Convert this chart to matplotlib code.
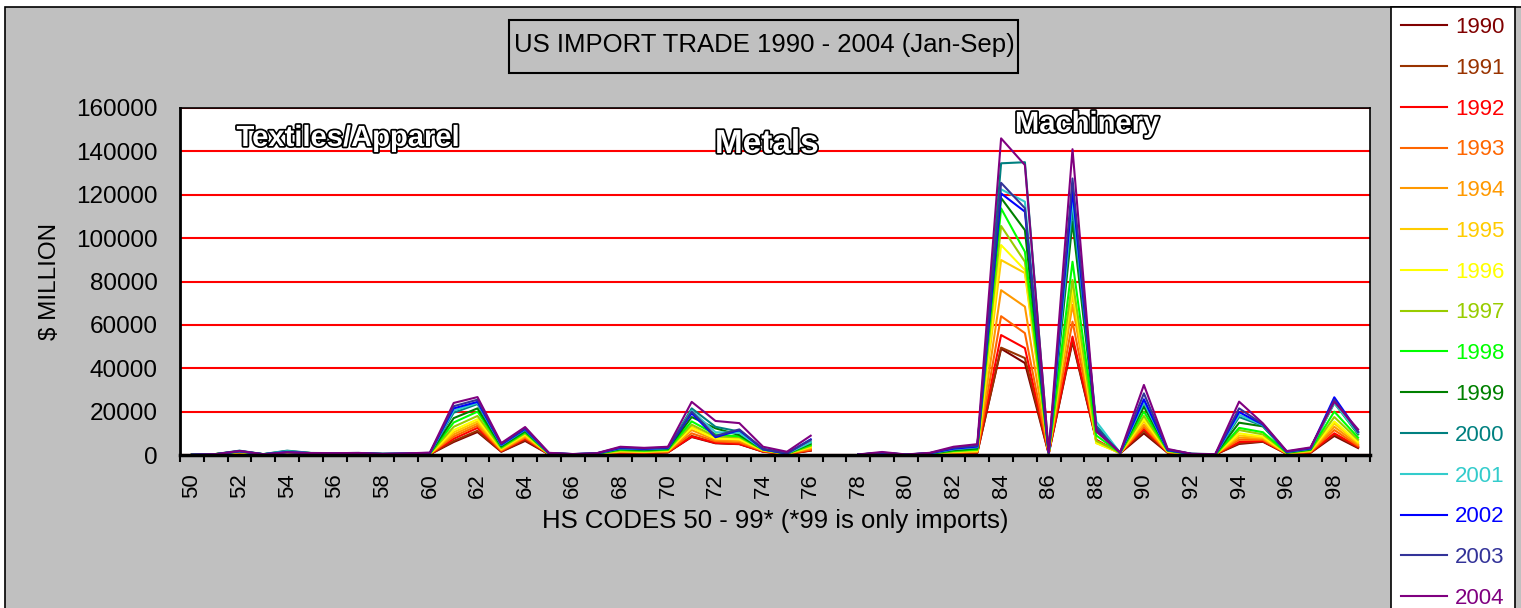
import numpy as np
import matplotlib.pyplot as plt
import matplotlib.patheffects as pe
from matplotlib.patches import Rectangle

# fonts: Arial-like text, narrow bold for the sector labels
plt.rcParams['font.family'] = ['Liberation Sans', 'DejaVu Sans']

nan = np.nan

# HS chapters on the x axis (77 is not used)
hs_codes = list(range(50, 100))
years = [str(y) for y in range(1990, 2005)]
colors = ['#800000', '#993300', '#FF0000', '#FF6600', '#FF9900', '#FFCC00', '#FFFF00',
          '#99CC00', '#00FF00', '#008000', '#008080', '#33CCCC', '#0000FF', '#333399', '#800080']

# import values, $ million, HS 50..99
imp_1990 = [150, 400, 900, 200, 600, 500, 400, 500, 300, 300, 300,
            6000, 10600, 1500, 6500, 300, 150, 300, 1000, 900, 1200,
            8300, 5400, 5000, 1500, 400, 2000, nan, 100, 500, 100,
            300, 800, 1000, 49000, 42400, 600, 52200, 6500, 800, 10000,
            1000, 300, 200, 5100, 6100, 500, 1000, 8800, 3200]
imp_1991 = [140, 350, 950, 200, 650, 500, 400, 500, 300, 300, 320,
            6500, 11200, 1600, 7000, 320, 160, 320, 1050, 950, 1250,
            8800, 5600, 5200, 1600, 420, 2100, nan, 100, 520, 100,
            320, 850, 1100, 49500, 44700, 650, 53000, 6800, 800, 11000,
            1100, 300, 200, 5500, 6300, 550, 1100, 9500, 3500]
imp_1992 = [130, 350, 1000, 220, 700, 550, 450, 550, 320, 320, 350,
            7500, 12500, 1800, 7500, 350, 180, 350, 1100, 1000, 1300,
            8500, 5600, 5100, 1600, 420, 2200, nan, 110, 550, 110,
            350, 900, 1200, 55300, 49300, 700, 54600, 7000, 850, 12000,
            1200, 320, 220, 6000, 6500, 600, 1200, 10000, 3800]
imp_1993 = [130, 380, 1100, 250, 800, 600, 500, 600, 350, 350, 400,
            8500, 13500, 2000, 8000, 400, 200, 380, 1300, 1150, 1500,
            10000, 6300, 5800, 1800, 450, 2500, nan, 120, 600, 120,
            400, 1000, 1300, 64000, 56200, 750, 61500, 6500, 900, 13000,
            1300, 350, 250, 7000, 7000, 650, 1400, 11500, 4200]
imp_1994 = [140, 400, 1200, 280, 900, 650, 550, 650, 380, 380, 450,
            9500, 14500, 2300, 8500, 450, 220, 420, 1500, 1300, 1700,
            11500, 6900, 6500, 2000, 500, 3100, nan, 130, 650, 130,
            450, 1100, 1500, 76000, 68400, 800, 69200, 6000, 900, 14000,
            1400, 380, 280, 8000, 7500, 700, 1600, 13000, 4800]
imp_1995 = [150, 420, 1300, 300, 1000, 700, 600, 700, 400, 400, 500,
            10500, 15500, 2600, 9000, 500, 250, 450, 1700, 1450, 1900,
            13000, 7800, 7300, 2200, 550, 3500, nan, 140, 700, 140,
            500, 1300, 1800, 89900, 83900, 850, 73800, 5500, 950, 15500,
            1500, 400, 300, 9000, 8000, 800, 1800, 14500, 5500]
imp_1996 = [140, 450, 1400, 320, 1100, 750, 650, 750, 420, 420, 550,
            11500, 16500, 2900, 9500, 550, 270, 500, 1900, 1600, 2100,
            12500, 7600, 7200, 2200, 550, 3800, nan, 150, 750, 150,
            550, 1500, 2000, 96800, 85300, 900, 77600, 5500, 950, 16500,
            1600, 420, 320, 10000, 8500, 900, 2000, 15500, 6000]
imp_1997 = [130, 450, 1500, 350, 1300, 800, 700, 800, 450, 450, 600,
            13000, 18000, 3200, 10000, 600, 300, 550, 2100, 1800, 2300,
            14000, 8500, 8200, 2400, 600, 4200, nan, 160, 800, 160,
            600, 1700, 2300, 105600, 89100, 950, 80700, 6500, 1000, 18000,
            1800, 450, 350, 11500, 9500, 1000, 2200, 17500, 7000]
imp_1998 = [120, 400, 1600, 350, 1500, 850, 750, 850, 480, 500, 700,
            15000, 20000, 3600, 10500, 650, 320, 600, 2400, 2000, 2500,
            15500, 9500, 8600, 2500, 650, 4600, nan, 170, 850, 170,
            650, 1900, 2600, 113700, 93700, 1000, 89100, 9000, 1000, 20000,
            2000, 480, 100, 12500, 10500, 1100, 2400, 20000, 8000]
imp_1999 = [130, 420, 1800, 380, 1800, 900, 800, 900, 500, 550, 800,
            17000, 21500, 4000, 11000, 700, 350, 650, 2700, 2300, 2800,
            17500, 12300, 9200, 2600, 700, 5200, nan, 180, 900, 180,
            700, 2200, 3000, 118500, 103700, 1050, 107500, 11600, 1050, 22300,
            2200, 500, 300, 14900, 13200, 1200, 2600, 24000, 9500]
imp_2000 = [140, 450, 2000, 400, 2000, 950, 850, 950, 550, 600, 900,
            19500, 23500, 4500, 11500, 800, 380, 700, 3000, 2600, 3100,
            21500, 13000, 10800, 2800, 800, 6000, nan, 200, 1000, 200,
            800, 2600, 3500, 134500, 135000, 1100, 113000, 13500, 1100, 24000,
            2500, 550, 400, 17500, 13500, 1400, 2900, 24500, 10500]
imp_2001 = [110, 380, 1800, 350, 1700, 850, 800, 900, 500, 600, 850,
            20500, 24000, 4600, 11800, 800, 380, 700, 3100, 2700, 3200,
            20500, 10500, 10200, 2600, 700, 5800, nan, 190, 950, 190,
            750, 2700, 3700, 122500, 116800, 1000, 117500, 15400, 1000, 24500,
            2300, 500, 350, 18500, 13800, 1400, 2900, 24000, 10000]
imp_2002 = [100, 330, 1700, 330, 1400, 800, 750, 850, 480, 650, 900,
            21500, 24500, 4800, 12000, 850, 400, 720, 3200, 2800, 3300,
            19200, 8200, 11500, 2600, 700, 7200, nan, 200, 1000, 200,
            800, 2900, 3900, 120600, 112200, 1000, 122000, 12000, 1000, 25700,
            2200, 480, 330, 19800, 14000, 1500, 3000, 26600, 10800]
imp_2003 = [100, 350, 1800, 330, 1300, 850, 800, 900, 500, 700, 1000,
            22500, 25500, 5100, 12400, 900, 420, 750, 3500, 3000, 3500,
            20000, 8800, 11800, 2800, 800, 7000, nan, 220, 1100, 220,
            900, 3300, 4300, 125500, 113800, 1100, 127500, 12400, 1100, 28400,
            2500, 500, 350, 21500, 14200, 1600, 3200, 25500, 10500]
imp_2004 = [100, 380, 1900, 350, 1200, 900, 850, 950, 520, 750, 1100,
            24000, 26700, 5500, 12900, 1000, 450, 800, 3800, 3300, 3800,
            24500, 15700, 14700, 3800, 1500, 8900, nan, 250, 1400, 250,
            1000, 3800, 5000, 146000, 133700, 1200, 141000, 10800, 1200, 32300,
            2800, 550, 400, 24600, 14600, 1800, 3500, 24600, 11800]

series = [imp_1990, imp_1991, imp_1992, imp_1993, imp_1994, imp_1995, imp_1996, imp_1997,
          imp_1998, imp_1999, imp_2000, imp_2001, imp_2002, imp_2003, imp_2004]

W, H = 1521, 608
fig = plt.figure(figsize=(W / 100, H / 100), dpi=100)
fig.patch.set_facecolor('white')

# grey chart area with black border (runs off the bottom/right)
fig.add_artist(Rectangle((5 / W, -0.05), 1.2, 1 - 7 / H + 0.05, transform=fig.transFigure,
                         facecolor='#C0C0C0', edgecolor='black', linewidth=1.2, zorder=-10))

ax = fig.add_axes([180 / W, 1 - 455 / H, 1190 / W, 347 / H])
ax.set_facecolor('white')

for vals, yr, c in zip(series, years, colors):
    ax.plot(hs_codes, vals, color=c, lw=1.5, label=yr)

ax.set_xlim(49.5, 99.5)
ax.set_ylim(0, 160000)
ax.set_yticks(range(0, 160001, 20000))
ax.yaxis.grid(True, color='red', lw=1.5)
ax.set_axisbelow(True)

ax.set_xticks(range(50, 100, 2))
ax.set_xticklabels([str(c) for c in range(50, 100, 2)], rotation=90, fontsize=16)
ax.set_xticks(np.arange(49.5, 100, 1), minor=True)
ax.tick_params(axis='x', which='major', length=0, pad=13)
ax.tick_params(axis='x', which='minor', length=5, width=1.5, direction='out')
ax.tick_params(axis='y', length=0, pad=16, labelsize=17.5)

for s in ax.spines.values():
    s.set_color('black')
    s.set_linewidth(1.2)
ax.spines['bottom'].set_linewidth(2.5)
ax.spines['left'].set_linewidth(2)

ax.set_xlabel('HS CODES 50 - 99* (*99 is only imports)', fontsize=18.5, labelpad=8)
ax.set_ylabel(r'\$ MILLION', fontsize=17.5, labelpad=11)

# title in a box
fig.add_artist(Rectangle((509 / W, 1 - 73 / H), 509 / W, 53 / H, transform=fig.transFigure,
                         facecolor='none', edgecolor='black', linewidth=1.5))
fig.text(764 / W, 1 - 45 / H, 'US IMPORT TRADE 1990 - 2004 (Jan-Sep)', ha='center', va='center',
         fontsize=18.5)

# outlined sector labels
outline = [pe.withStroke(linewidth=2.5, foreground='black')]
for txt, x, y, sz in [('Textiles/Apparel', 348, 146, 21), ('Metals', 767, 153, 24), ('Machinery', 1087, 132, 21)]:
    fig.text(x / W, 1 - y / H, txt, ha='center', va='baseline', fontsize=sz, fontweight='bold',
             family=['Liberation Sans Narrow', 'Liberation Sans'], color='white', path_effects=outline)

# legend on the right
leg = fig.legend(loc='upper left', bbox_to_anchor=(1391 / W, 1 - 7 / H), frameon=True, fancybox=False,
                 edgecolor='black', framealpha=1, labelcolor='linecolor', fontsize=16,
                 handlelength=2.07, handletextpad=0.36, labelspacing=0.89, borderpad=0.45, borderaxespad=0)
leg.get_frame().set_linewidth(1.2)

plt.savefig('out.png', dpi=100, facecolor=fig.get_facecolor())
